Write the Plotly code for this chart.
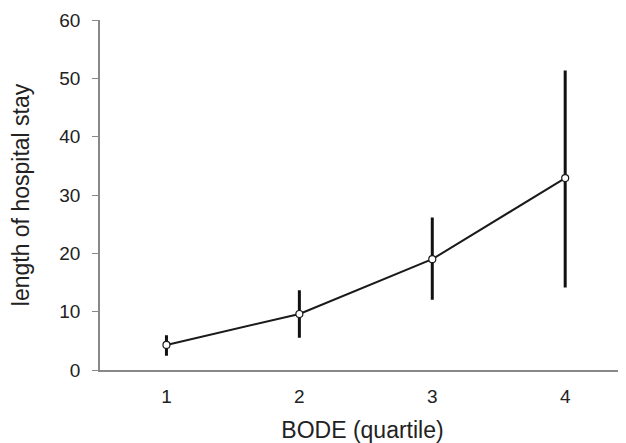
import plotly.graph_objects as go

quartiles = [1, 2, 3, 4]
mean_stay = [4.3, 9.6, 19.0, 32.9]
upper = [5.7, 13.4, 25.9, 51.1]
lower = [2.7, 5.8, 12.3, 14.4]

err_plus = [u - m for u, m in zip(upper, mean_stay)]
err_minus = [m - l for m, l in zip(mean_stay, lower)]

fig = go.Figure()
fig.add_trace(go.Scatter(
    x=quartiles, y=mean_stay, mode="lines+markers",
    line=dict(color="#1a1a1a", width=2),
    marker=dict(size=7, color="white", line=dict(color="#1a1a1a", width=1.2)),
    error_y=dict(type="data", symmetric=False, array=err_plus, arrayminus=err_minus,
                 color="#111111", thickness=3, width=1.5),
    showlegend=False,
))

font = "Liberation Sans, Arial, sans-serif"
fig.update_layout(
    width=618, height=435,
    margin=dict(l=92, r=1, t=12, b=73),
    paper_bgcolor="white", plot_bgcolor="white",
    font=dict(family=font, color="#222222"),
    xaxis=dict(range=[0.5, 4.45], tickvals=quartiles, ticktext=["1", "2", "3", "4"],
               showgrid=False, zeroline=False, showline=True, linecolor="#888888",
               linewidth=2, ticks="", tickfont=dict(size=19), ticklabelstandoff=8,
               title=dict(text="BODE (quartile)", font=dict(size=23), standoff=18)),
    yaxis=dict(range=[0, 60], tickvals=[0, 10, 20, 30, 40, 50, 60],
               showgrid=False, zeroline=False, showline=True, linecolor="#888888",
               linewidth=1.5, ticks="outside", ticklen=6, tickcolor="#888888",
               tickfont=dict(size=19), ticklabelstandoff=8,
               title=dict(text="length of hospital stay", font=dict(size=23), standoff=24)),
)
fig.write_html("out.html")
